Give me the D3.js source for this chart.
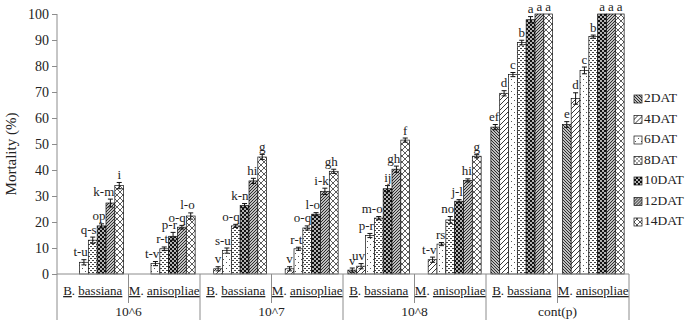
<!DOCTYPE html>
<html lang="en">

<head>
    <meta charset="UTF-8" />
    <title>Mortality by dose and DAT</title>
    <script src="https://d3js.org/d3.v7.min.js"></script>
    <style>
        body {
            margin: 0;
            background: #fff;
        }
        svg text {
            font-family: "Liberation Serif", "Times New Roman", serif;
            fill: #222;
        }
    </style>
</head>

<body>
    <div id="chart"></div>

    <script>
        const width = 685;
        const height = 320;
        const marginLeft = 57;
        const plotRight = 629;
        const marginTop = 14;
        const axisY = 274;

        // data
        const doses = ["10^6", "10^7", "10^8", "cont(p)"];
        const species = [["B", "bassiana"], ["M", "anisopliae"]];
        const categories = ["10^6 B", "10^6 M", "10^7 B", "10^7 M", "10^8 B", "10^8 M", "cont B", "cont M"];
        const series = ["2DAT", "4DAT", "6DAT", "8DAT", "10DAT", "12DAT", "14DAT"];

        const dat2 = [0, 0, 0, 0, 1.5, 0, 56.5, 57.5];
        const dat4 = [0, 0, 2, 2, 3, 5.5, 69.5, 67.5];
        const dat6 = [4.5, 4, 9, 9.7, 14.8, 11.5, 76.7, 78.3];
        const dat8 = [13, 9.7, 18.5, 17.7, 21.5, 20.8, 89, 91.3];
        const dat10 = [18.5, 14.5, 26.3, 23, 32.8, 28, 97.8, 100];
        const dat12 = [27.3, 18, 35.8, 31.8, 40.3, 36, 100, 100];
        const dat14 = [34, 22.3, 45, 39.5, 51.5, 45.3, 100, 100];

        const err2 = [0, 0, 0, 0, 0.8, 0, 1, 1.1];
        const err4 = [0, 0, 0.8, 0.8, 1, 1, 1, 2.2];
        const err6 = [1, 0.8, 1, 0.6, 0.8, 0.6, 0.8, 1.3];
        const err8 = [1.2, 0.7, 0.6, 0.8, 0.6, 1.3, 0.9, 0.6];
        const err10 = [0.8, 1.5, 0.8, 0.6, 1.2, 0.6, 1.2, 0];
        const err12 = [1.5, 0.7, 1, 1.2, 1.2, 0.6, 0, 0];
        const err14 = [1.2, 1.2, 1, 0.8, 0.8, 0.6, 0, 0];

        const lab2 = [null, null, null, null, "v", null, "ef", "e"];
        const lab4 = [null, null, "v", "v", "uv", "t-v", "d", "d"];
        const lab6 = ["t-u", "t-v", "s-u", "r-t", "p-r", "rs", "c", "c"];
        const lab8 = ["q-s", "r-t", "o-q", "o-q", "m-o", "no", "b", "b"];
        const lab10 = ["op", "p-r", "k-n", "l-o", "ij", "j-l", "a", "a"];
        const lab12 = ["k-m", "o-q", "hi", "i-k", "gh", "hi", "a", "a"];
        const lab14 = ["i", "l-o", "g", "gh", "f", "g", "a", "a"];

        const values = [dat2, dat4, dat6, dat8, dat10, dat12, dat14];
        const errors = [err2, err4, err6, err8, err10, err12, err14];
        const letters = [lab2, lab4, lab6, lab8, lab10, lab12, lab14];

        const bars = [];
        series.forEach((s, si) => {
            categories.forEach((c, ci) => {
                bars.push({ cat: c, ser: s, si: si, v: values[si][ci], e: errors[si][ci], l: letters[si][ci] });
            });
        });

        const svg = d3.select("#chart")
            .append("svg")
            .attr("width", width)
            .attr("height", height);

        // fill patterns, one per series
        const defs = svg.append("defs");

        function addPattern(id, size, bg, draw) {
            const p = defs.append("pattern")
                .attr("id", id)
                .attr("patternUnits", "userSpaceOnUse")
                .attr("width", size)
                .attr("height", size);
            p.append("rect").attr("width", size).attr("height", size).attr("fill", bg);
            draw(p, size);
        }

        // 2DAT dense "\" hatch
        addPattern("pat0", 3, "#fff", (p, s) => {
            p.append("path")
                .attr("d", `M-1,-1 L${s + 1},${s + 1} M-1,${s - 1} L1,${s + 1} M${s - 1},-1 L${s + 1},1`)
                .attr("stroke", "#222").attr("stroke-width", 1.1);
        });
        // 4DAT wide "/" hatch
        addPattern("pat1", 5, "#fff", (p, s) => {
            p.append("path")
                .attr("d", `M-1,${s + 1} L${s + 1},-1 M-1,1 L1,-1 M${s - 1},${s + 1} L${s + 1},${s - 1}`)
                .attr("stroke", "#222").attr("stroke-width", 0.9);
        });
        // 6DAT sparse dots
        addPattern("pat2", 6, "#fff", (p, s) => {
            p.append("rect").attr("x", 1).attr("y", 1).attr("width", 1).attr("height", 1).attr("fill", "#555");
            p.append("rect").attr("x", 4).attr("y", 4).attr("width", 1).attr("height", 1).attr("fill", "#555");
        });
        // 8DAT small dashes
        addPattern("pat3", 4, "#fff", (p, s) => {
            p.append("rect").attr("x", 0).attr("y", 0).attr("width", 2).attr("height", 1).attr("fill", "#444");
            p.append("rect").attr("x", 2).attr("y", 2).attr("width", 2).attr("height", 1).attr("fill", "#444");
        });
        // 10DAT black with white spots
        addPattern("pat4", 4, "#111", (p, s) => {
            p.append("circle").attr("cx", 1).attr("cy", 1).attr("r", 0.9).attr("fill", "#fff");
            p.append("circle").attr("cx", 3).attr("cy", 3).attr("r", 0.9).attr("fill", "#fff");
        });
        // 12DAT dense "/" hatch
        addPattern("pat5", 3, "#fff", (p, s) => {
            p.append("path")
                .attr("d", `M-1,${s + 1} L${s + 1},-1 M-1,1 L1,-1 M${s - 1},${s + 1} L${s + 1},${s - 1}`)
                .attr("stroke", "#222").attr("stroke-width", 1.1);
        });
        // 14DAT diagonal crosshatch
        addPattern("pat6", 6, "#fff", (p, s) => {
            p.append("path")
                .attr("d", `M0,0 L${s},${s} M0,${s} L${s},0`)
                .attr("stroke", "#333").attr("stroke-width", 0.8);
        });

        const x0 = d3.scaleBand()
            .domain(categories)
            .range([marginLeft, plotRight])
            .padding(0);

        const x1 = d3.scaleBand()
            .domain(series)
            .range([0, x0.bandwidth()])
            .paddingInner(0)
            .paddingOuter(0.55);

        const y = d3.scaleLinear()
            .domain([0, 100])
            .range([axisY, marginTop]);

        const axisColor = "#8c8c8c";

        // y axis
        const yAxisG = svg.append("g")
            .attr("transform", `translate(${marginLeft},0)`)
            .call(d3.axisLeft(y).tickValues(d3.range(0, 101, 10)).tickSize(5).tickPadding(3));
        yAxisG.select(".domain").remove();
        yAxisG.selectAll(".tick line").attr("stroke", axisColor);
        yAxisG.selectAll(".tick text")
            .attr("font-size", 14)
            .attr("font-family", "Liberation Serif")
            .attr("fill", "#222");

        // left line runs all the way down through the label rows
        svg.append("line")
            .attr("x1", marginLeft).attr("x2", marginLeft)
            .attr("y1", marginTop).attr("y2", height)
            .attr("stroke", axisColor);

        svg.append("text")
            .attr("transform", `translate(13,${(marginTop + axisY) / 2 + 10}) rotate(-90)`)
            .attr("text-anchor", "middle")
            .attr("dominant-baseline", "middle")
            .attr("font-size", 15)
            .text("Mortality (%)");

        // bars
        const barG = svg.append("g");
        const shown = bars.filter(d => d.v > 0);

        barG.selectAll("rect")
            .data(shown)
            .join("rect")
            .attr("x", d => x0(d.cat) + x1(d.ser))
            .attr("y", d => y(d.v))
            .attr("width", x1.bandwidth())
            .attr("height", d => y(0) - y(d.v))
            .attr("fill", d => `url(#pat${d.si})`)
            .attr("stroke", "#111")
            .attr("stroke-width", 0.7);

        // error bars
        const errG = svg.append("g").attr("stroke", "#111").attr("stroke-width", 1);
        shown.filter(d => d.e > 0).forEach(d => {
            const cx = x0(d.cat) + x1(d.ser) + x1.bandwidth() / 2;
            const top = y(Math.min(100, d.v + d.e));
            const bot = y(d.v - d.e);
            errG.append("line").attr("x1", cx).attr("x2", cx).attr("y1", top).attr("y2", bot);
            errG.append("line").attr("x1", cx - 2.5).attr("x2", cx + 2.5).attr("y1", top).attr("y2", top);
            errG.append("line").attr("x1", cx - 2.5).attr("x2", cx + 2.5).attr("y1", bot).attr("y2", bot);
        });

        // significance letters: short ones centred, longer ones end at the bar's right edge
        svg.append("g").selectAll("text")
            .data(shown.filter(d => d.l))
            .join("text")
            .attr("x", d => d.l.length > 1 ?
                x0(d.cat) + x1(d.ser) + x1.bandwidth() - 0.5 :
                x0(d.cat) + x1(d.ser) + x1.bandwidth() / 2)
            .attr("y", d => y(Math.min(100, d.v + d.e)) - 3.5)
            .attr("text-anchor", d => d.l.length > 1 ? "end" : "middle")
            .attr("font-size", 13)
            .text(d => d.l);

        // x axis baseline
        svg.append("line")
            .attr("x1", marginLeft).attr("x2", plotRight)
            .attr("y1", axisY).attr("y2", axisY)
            .attr("stroke", axisColor);

        // category separators
        categories.forEach((c, i) => {
            const xx = x0(c) + x0.bandwidth();
            const isGroupEnd = i % 2 === 1;
            svg.append("line")
                .attr("x1", xx).attr("x2", xx)
                .attr("y1", axisY).attr("y2", isGroupEnd ? height : 303)
                .attr("stroke", axisColor);
        });

        // species labels with underlined genus and epithet
        categories.forEach((c, i) => {
            const sp = species[i % 2];
            const t = svg.append("text")
                .attr("x", x0(c) + x0.bandwidth() / 2)
                .attr("y", 295)
                .attr("text-anchor", "middle")
                .attr("font-size", 13);
            t.append("tspan").attr("text-decoration", "underline").text(sp[0]);
            t.append("tspan").text(". ");
            t.append("tspan").attr("text-decoration", "underline").text(sp[1]);
        });

        // dose labels
        doses.forEach((d, i) => {
            svg.append("text")
                .attr("x", x0(categories[i * 2]) + x0.bandwidth())
                .attr("y", 316)
                .attr("text-anchor", "middle")
                .attr("font-size", 13.5)
                .text(d);
        });

        // legend
        const legend = svg.append("g").attr("transform", "translate(634,99)");
        series.forEach((s, i) => {
            const g = legend.append("g").attr("transform", `translate(0,${i * 20.5})`);
            g.append("rect")
                .attr("x", 0).attr("y", -4)
                .attr("width", 8).attr("height", 8)
                .attr("fill", `url(#pat${i})`)
                .attr("stroke", "#111")
                .attr("stroke-width", 0.7);
            g.append("text")
                .attr("x", 10)
                .attr("y", 0)
                .attr("dominant-baseline", "middle")
                .attr("font-size", 13.5)
                .text(s);
        });
    </script>
</body>

</html>
